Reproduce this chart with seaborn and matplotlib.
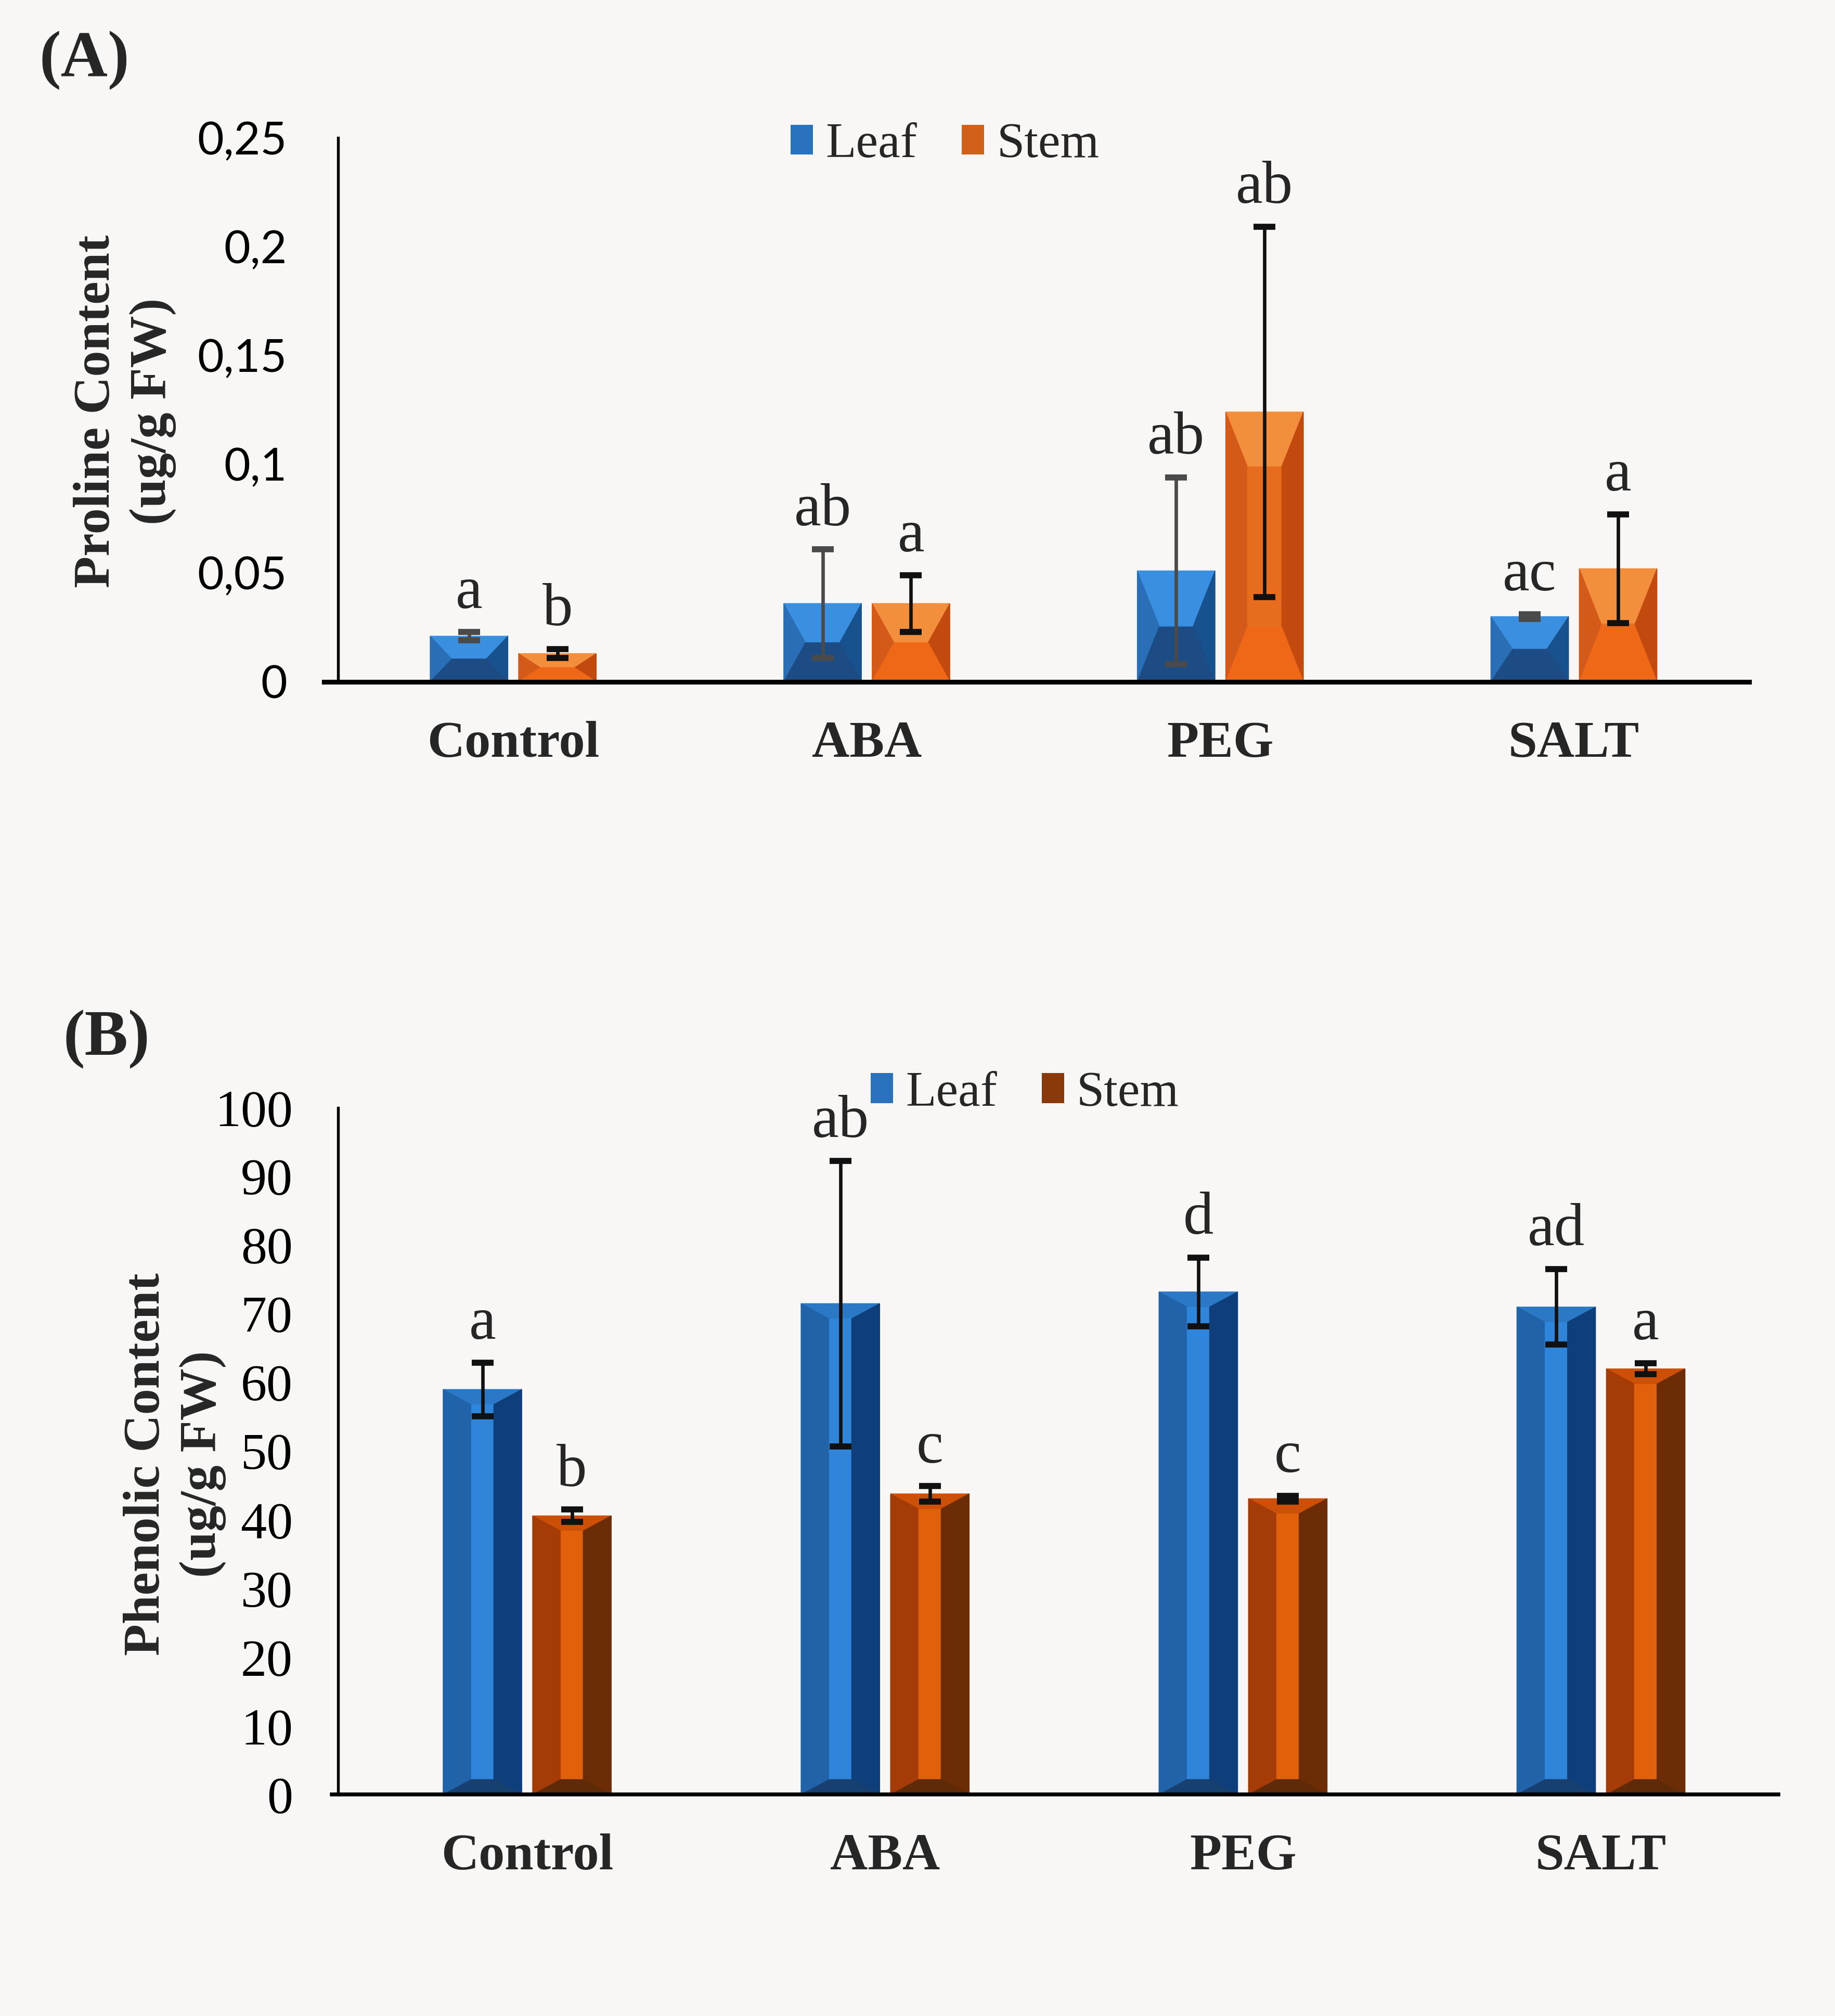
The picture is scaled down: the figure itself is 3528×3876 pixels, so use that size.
import matplotlib
matplotlib.use("Agg")
import matplotlib.pyplot as plt
from matplotlib.patches import Polygon, Patch
import seaborn as sns
import pandas as pd
import numpy as np

treatments = ["Control", "ABA", "PEG", "SALT"]
tissues = ["Leaf", "Stem"]

proline_leaf = [0.021, 0.036, 0.051, 0.030]
proline_stem = [0.013, 0.036, 0.124, 0.052]
proline_leaf_err = [0.002, 0.025, 0.043, 0.001]
proline_stem_err = [0.002, 0.013, 0.085, 0.025]
proline_leaf_letters = ["a", "ab", "ab", "ac"]
proline_stem_letters = ["b", "a", "ab", "a"]

phenolic_leaf = [59.0, 71.5, 73.2, 71.0]
phenolic_stem = [40.6, 43.8, 43.1, 62.0]
phenolic_leaf_err = [3.9, 20.8, 5.0, 5.5]
phenolic_stem_err = [0.9, 1.1, 0.4, 0.8]
phenolic_leaf_letters = ["a", "ab", "d", "ad"]
phenolic_stem_letters = ["b", "c", "c", "a"]

proline_ticks = [0, 0.05, 0.1, 0.15, 0.2, 0.25]
proline_ticklabels = ["0", "0,05", "0,1", "0,15", "0,2", "0,25"]
phenolic_ticks = list(range(0, 101, 10))

BG = "#f8f7f5"
SERIF = ["Liberation Serif", "DejaVu Serif"]

sns.set_style("white")
plt.rcParams["font.family"] = SERIF

# bevel face colours: top, left, centre, right, bottom
bevel_a = {
    "Leaf": ["#3a8fe0", "#2a6fb6", "#2f86da", "#17528f", "#1d4b84"],
    "Stem": ["#f28e3c", "#d35a18", "#e86c1e", "#c24a0e", "#ee6818"],
}
bevel_b = {
    "Leaf": ["#2a78c6", "#2163a8", "#2f85da", "#0f3f7b", "#173f70"],
    "Stem": ["#cd5009", "#a53c08", "#e0600c", "#6c2d06", "#5e2a08"],
}


def make_df(leaf, stem):
    return pd.DataFrame({
        "treatment": treatments * 2,
        "tissue": ["Leaf"] * 4 + ["Stem"] * 4,
        "value": leaf + stem,
    })


def add_bevel(ax, bar, cols, fh, fv):
    x0, y0 = ax.transData.transform((bar.get_x(), 0))
    x1, y1 = ax.transData.transform((bar.get_x() + bar.get_width(), bar.get_height()))
    w = x1 - x0
    h = y1 - y0
    dh = fh * w
    dv = min(fv * w, h / 2)
    ix0, ix1 = x0 + dh, x1 - dh
    iy0, iy1 = y0 + dv, y1 - dv
    inv = ax.transData.inverted()
    polys = [
        [(x0, y1), (x1, y1), (ix1, iy1), (ix0, iy1)],   # top
        [(x0, y0), (x0, y1), (ix0, iy1), (ix0, iy0)],   # left
        [(ix0, iy0), (ix0, iy1), (ix1, iy1), (ix1, iy0)],  # centre
        [(x1, y0), (x1, y1), (ix1, iy1), (ix1, iy0)],   # right
        [(x0, y0), (x1, y0), (ix1, iy0), (ix0, iy0)],   # bottom
    ]
    for pts, c in zip(polys, cols):
        ax.add_patch(Polygon(inv.transform(pts), closed=True, facecolor=c,
                             edgecolor=c, linewidth=0.3, zorder=2))


def draw_panel(ax, leaf, stem, errs, letters, bevels, ecolors, ylim, fh, fv):
    df = make_df(leaf, stem)
    sns.barplot(data=df, x="treatment", y="value", hue="tissue",
                order=treatments, hue_order=tissues,
                palette={"Leaf": bevels["Leaf"][1], "Stem": bevels["Stem"][1]},
                width=0.5, gap=0.12, errorbar=None, legend=False,
                linewidth=0, ax=ax)
    ax.set_ylim(*ylim)
    fig.canvas.draw()
    for cont, tis, err, lets, ec in zip(ax.containers, tissues, errs, letters, ecolors):
        for bar, e, let in zip(cont, err, lets):
            add_bevel(ax, bar, bevels[tis], fh, fv)
            cx = bar.get_x() + bar.get_width() / 2
            top = bar.get_height()
            ax.errorbar(cx, top, yerr=e, fmt="none", ecolor=ec, elinewidth=1.6,
                        capsize=5, capthick=2.8, zorder=4)
            ax.annotate(let, (cx, top + e), xytext=(0, 5), textcoords="offset points",
                        ha="center", va="bottom", fontsize=28, family=SERIF, zorder=5)


fig = plt.figure(figsize=(11.76, 12.92), dpi=300, facecolor=BG)

# ---- Panel A ----
axA = fig.add_axes([0.1766, 0.6618, 0.7765, 0.2699], facecolor=BG)
draw_panel(axA, proline_leaf, proline_stem,
           [proline_leaf_err, proline_stem_err],
           [proline_leaf_letters, proline_stem_letters],
           bevel_a, ["#4a4a4a", "#111111"], (0, 0.25), 0.28, 0.7)
axA.set_xlim(-0.535, 3.495)
axA.spines["left"].set_position(("data", -0.495))
axA.set_yticks(proline_ticks)
axA.set_yticklabels(proline_ticklabels, family=["Lato", "DejaVu Sans"], fontsize=21)
axA.tick_params(axis="y", direction="out", length=7.6, width=1.2, pad=16, colors="black")
axA.spines["left"].set_linewidth(1.3)
axA.spines["bottom"].set_linewidth(2.2)

# ---- Panel B ----
axB = fig.add_axes([0.1808, 0.1098, 0.7884, 0.3407], facecolor=BG)
draw_panel(axB, phenolic_leaf, phenolic_stem,
           [phenolic_leaf_err, phenolic_stem_err],
           [phenolic_leaf_letters, phenolic_stem_letters],
           bevel_b, ["#111111", "#111111"], (0, 100), 0.357, 0.19)
axB.set_xlim(-0.546, 3.496)
axB.spines["left"].set_position(("data", -0.528))
axB.set_yticks(phenolic_ticks)
axB.set_yticklabels([str(t) for t in phenolic_ticks], family=SERIF, fontsize=24)
axB.tick_params(axis="y", direction="out", length=7, width=1.2, pad=14, colors="black")
axB.spines["left"].set_linewidth(1.3)
axB.spines["bottom"].set_linewidth(1.8)

for ax in (axA, axB):
    sns.despine(ax=ax, top=True, right=True)
    ax.set_xlabel("")
    ax.set_ylabel("")
    ax.tick_params(axis="x", length=0, pad=18)
    for lab in ax.get_xticklabels():
        lab.set_fontweight("bold")
        lab.set_fontsize(24)
        lab.set_family(SERIF)
    ax.spines["left"].set_color("black")
    ax.spines["bottom"].set_color("black")

# y labels
fig.text(0.068, 0.796, "Proline Content\n(ug/g FW)", rotation=90, ha="center",
         va="center", fontsize=24, fontweight="bold", linespacing=1.25, family=SERIF)
fig.text(0.0953, 0.2738, "Phenolic Content\n(ug/g FW)", rotation=90, ha="center",
         va="center", fontsize=24, fontweight="bold", linespacing=1.25, family=SERIF)

# panel tags
fig.text(0.046, 0.970, "(A)", ha="center", va="center", fontsize=30,
         fontweight="bold", family=SERIF)
fig.text(0.058, 0.4844, "(B)", ha="center", va="center", fontsize=30,
         fontweight="bold", family=SERIF)

# legends
handles_a = [Patch(facecolor="#2b72bd", edgecolor="none"),
             Patch(facecolor="#d2601a", edgecolor="none")]
handles_b = [Patch(facecolor="#2b72bd", edgecolor="none"),
             Patch(facecolor="#8a3a0a", edgecolor="none")]
leg_kw = dict(loc="center", ncol=2, frameon=False, handlelength=0.45,
              handleheight=0.55, handletextpad=0.25, columnspacing=0.9,
              prop={"family": SERIF, "size": 23})
fig.legend(handles_a, tissues, bbox_to_anchor=(0.515, 0.928), **leg_kw)
fig.legend(handles_b, tissues, bbox_to_anchor=(0.5585, 0.4576), **leg_kw)

fig.savefig("out.png", dpi=300, facecolor=BG)
